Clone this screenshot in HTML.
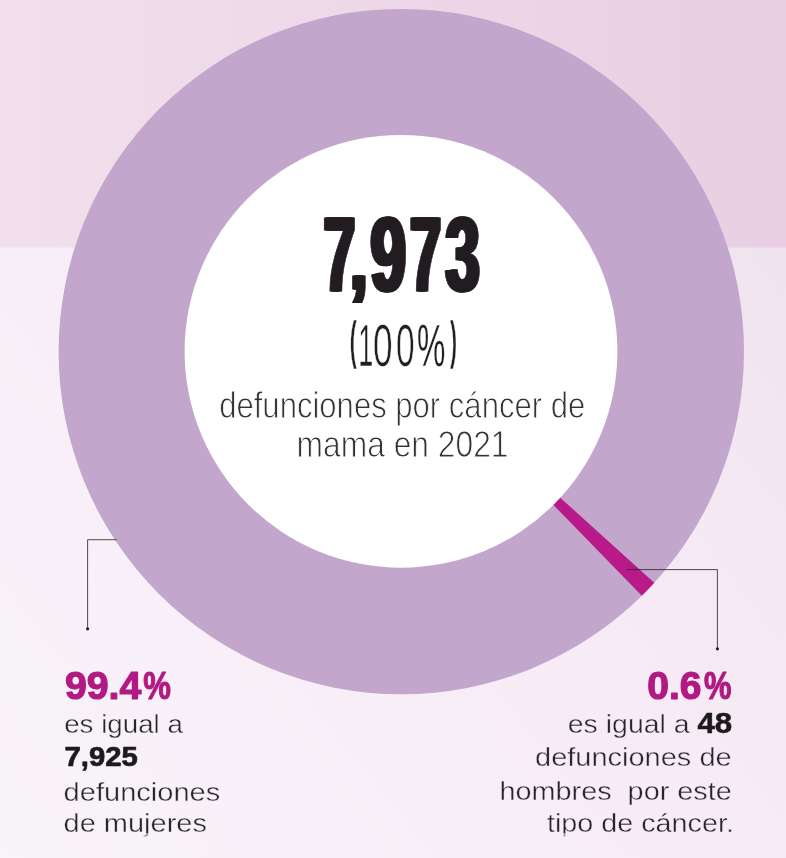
<!DOCTYPE html>
<html lang="es">
<head>
<meta charset="utf-8">
<title>Defunciones por cáncer de mama en 2021</title>
<style>
  html, body { margin: 0; padding: 0; }
  body { width: 786px; height: 858px; overflow: hidden; background: #f7ecf6; }
  svg { display: block; }
  text { font-family: "Liberation Sans", "DejaVu Sans", sans-serif; white-space: pre; stroke-linejoin: round; }
  .big { font-weight: 700; fill: #231f20; }
  .light { fill: #333235; }
  .light100 { fill: #231f20; }
  .mag { font-weight: 700; fill: #b11a82; }
  .body { fill: #28252a; }
  .bold { font-weight: 700; fill: #1d1a1c; }
</style>
</head>
<body>
<svg width="786" height="858" viewBox="0 0 786 858" role="img" aria-label="Defunciones por cáncer de mama en 2021">
  <defs>
    <linearGradient id="gTop" x1="0" y1="0" x2="1" y2="0">
      <stop offset="0" stop-color="#f1e0ec"/>
      <stop offset="1" stop-color="#e8cfe3"/>
    </linearGradient>
    <linearGradient id="gBot" gradientUnits="userSpaceOnUse" x1="786" y1="248" x2="0" y2="858">
      <stop offset="0" stop-color="#efe3ee"/>
      <stop offset="0.2" stop-color="#f4e8f3"/>
      <stop offset="0.4" stop-color="#f7ecf6"/>
      <stop offset="0.62" stop-color="#f8eef7"/>
      <stop offset="0.88" stop-color="#f8f2f9"/>
      <stop offset="1" stop-color="#f9f4f7"/>
    </linearGradient>
    <filter id="thick" x="-10%" y="-10%" width="120%" height="130%"><feOffset in="SourceGraphic" dx="-2.2" dy="0" result="o0"/><feOffset in="SourceGraphic" dx="-1.1" dy="0" result="o1"/><feOffset in="SourceGraphic" dx="1.1" dy="0" result="o2"/><feOffset in="SourceGraphic" dx="2.2" dy="0" result="o3"/><feMerge><feMergeNode in="o0"/><feMergeNode in="o1"/><feMergeNode in="o2"/><feMergeNode in="o3"/><feMergeNode in="SourceGraphic"/></feMerge></filter>
  </defs>
  <rect x="0" y="0" width="786" height="858" fill="url(#gBot)"/>
  <rect x="0" y="0" width="786" height="247.6" fill="url(#gTop)"/>

  <circle cx="401.3" cy="351.6" r="342.7" fill="#c2a6cc"/>
  <path d="M558.03,495.72 L654.29,582.77 A342.7,342.7 0 0 1 641.84,595.70 L550.91,502.33 Z" fill="#b81a89"/>
  <circle cx="401" cy="351.3" r="216.4" fill="#ffffff"/>

  <g fill="none" stroke="#231f20" stroke-width="0.8">
    <polyline points="116.5,539.7 87.6,539.7 87.6,628.5"/>
    <polyline points="626.5,569.6 717.4,569.6 717.4,648.5"/>
  </g>
  <circle cx="87.6" cy="628.8" r="1.6" fill="#231f20"/>
  <circle cx="717.4" cy="648.8" r="1.6" fill="#231f20"/>

  <g filter="url(#thick)"><text class="big" aria-label="7,973" y="291.0" font-size="106.3" stroke="#231f20" stroke-width="1.0"><tspan x="323.81" textLength="31.39" lengthAdjust="spacingAndGlyphs">7</tspan><tspan x="350.30" textLength="17.08" lengthAdjust="spacingAndGlyphs" font-size="87.0" y="289.10">,</tspan><tspan x="370.46" textLength="35.54" lengthAdjust="spacingAndGlyphs" y="291.0">9</tspan><tspan x="410.21" textLength="30.73" lengthAdjust="spacingAndGlyphs">7</tspan><tspan x="445.56" textLength="34.15" lengthAdjust="spacingAndGlyphs">3</tspan></text></g>
  <text class="mag" aria-label="99.4%" y="699.30" font-size="38.8" stroke="#b11a82" stroke-width="1.2"><tspan x="64.93" textLength="76.41" lengthAdjust="spacingAndGlyphs">99.4</tspan><tspan x="143.32" textLength="27.62" lengthAdjust="spacingAndGlyphs">%</tspan></text>
  <text class="mag" aria-label="0.6%" y="699.30" font-size="38.8" stroke="#b11a82" stroke-width="1.2"><tspan x="647.34" textLength="54.23" lengthAdjust="spacingAndGlyphs">0.6</tspan><tspan x="704.03" textLength="27.41" lengthAdjust="spacingAndGlyphs">%</tspan></text>
  <text class="light100" aria-label="(100%)" y="366.15" font-size="60.0" stroke="#ffffff" stroke-width="0.7"><tspan x="349.80" textLength="7.02" lengthAdjust="spacingAndGlyphs" font-size="51.5" y="357.95" stroke-width="0.5" font-weight="700">(</tspan><tspan x="358.28" textLength="15.00" lengthAdjust="spacingAndGlyphs" y="366.15" stroke-width="0.6">1</tspan><tspan x="373.04" textLength="19.55" lengthAdjust="spacingAndGlyphs">0</tspan><tspan x="396.01" textLength="18.61" lengthAdjust="spacingAndGlyphs">0</tspan><tspan x="417.03" textLength="28.40" lengthAdjust="spacingAndGlyphs" stroke-width="0.3">%</tspan><tspan x="449.94" textLength="7.02" lengthAdjust="spacingAndGlyphs" font-size="51.5" y="357.95" stroke-width="0.5" font-weight="700">)</tspan></text>
  <text class="light" x="219.20" y="417.55" font-size="36.7" textLength="366.04" lengthAdjust="spacingAndGlyphs" stroke="#ffffff" stroke-width="0.9">defunciones por cáncer de</text>
  <text class="light" x="296.60" y="457.45" font-size="36.7" textLength="211.90" lengthAdjust="spacingAndGlyphs" stroke="#ffffff" stroke-width="0.9">mama en 2021</text>
  <text class="body" x="64.20" y="733.30" font-size="26.4" textLength="118.64" lengthAdjust="spacingAndGlyphs" stroke="#f8f1f9" stroke-width="0.4">es igual a</text>
  <text class="bold" x="64.60" y="765.55" font-size="27.4" textLength="73.22" lengthAdjust="spacingAndGlyphs" stroke="#1d1a1c" stroke-width="0.7">7,925</text>
  <text class="body" x="63.60" y="800.60" font-size="26.4" textLength="156.68" lengthAdjust="spacingAndGlyphs" stroke="#f8f1f9" stroke-width="0.4">defunciones</text>
  <text class="body" x="63.60" y="832.40" font-size="26.4" textLength="143.28" lengthAdjust="spacingAndGlyphs" stroke="#f8f1f9" stroke-width="0.4">de mujeres</text>
  <text class="body" x="567.80" y="733.10" font-size="26.4" textLength="164.45" lengthAdjust="spacingAndGlyphs" stroke="#f7ecf6" stroke-width="0.4">es igual a <tspan class="bold" font-size="29" stroke="#1d1a1c" stroke-width="0.5">48</tspan></text>
  <text class="body" x="535.00" y="766.20" font-size="26.4" textLength="196.68" lengthAdjust="spacingAndGlyphs" stroke="#f7ecf6" stroke-width="0.4">defunciones de</text>
  <text class="body" x="499.60" y="799.90" font-size="26.4" textLength="232.08" lengthAdjust="spacingAndGlyphs" stroke="#f7ecf6" stroke-width="0.4">hombres  por este</text>
  <text class="body" x="547.00" y="832.40" font-size="26.4" textLength="186.87" lengthAdjust="spacingAndGlyphs" stroke="#f7ecf6" stroke-width="0.4">tipo de cáncer.</text>
  <rect x="0" y="833" width="786" height="4" fill="url(#gBot)" opacity="0.55"/>
  <rect x="0" y="836.8" width="786" height="21.2" fill="url(#gBot)"/>
</svg>
</body>
</html>
